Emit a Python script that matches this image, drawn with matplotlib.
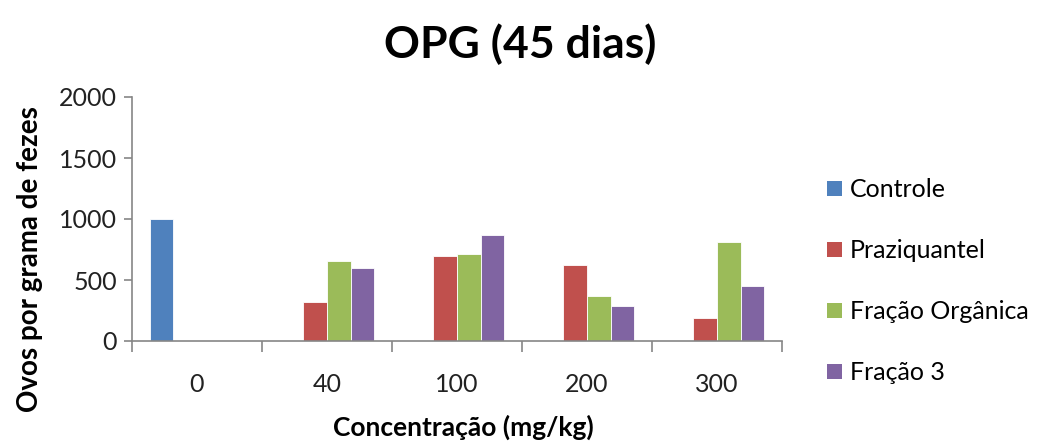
import matplotlib
matplotlib.use("Agg")
import matplotlib.pyplot as plt
import numpy as np
from matplotlib.patches import Patch

categories = ["0", "40", "100", "200", "300"]
series_names = ["Controle", "Praziquantel", "Fração Orgânica", "Fração 3"]
controle = [1000, 0, 0, 0, 0]
praziquantel = [0, 320, 695, 620, 185]
fracao_organica = [0, 655, 715, 365, 810]
fracao_3 = [0, 595, 870, 290, 447]
colors = ["#4F81BD", "#C0504D", "#9BBB59", "#8064A2"]

plt.rcParams['font.family'] = ['Lato', 'DejaVu Sans']

fig = plt.figure(figsize=(10.41, 4.43), dpi=100)
ax = fig.add_axes([132 / 1041, 1 - 341 / 443, 650 / 1041, 244 / 443])

x = np.arange(len(categories))
width = 0.182
values = [controle, praziquantel, fracao_organica, fracao_3]
for i, (vals, col) in enumerate(zip(values, colors)):
    v = np.array(vals, dtype=float)
    mask = v > 0
    ax.bar(x[mask] + (i - 1.5) * width, v[mask], width, color=col,
           edgecolor="white", linewidth=0.6, zorder=2)

ax.set_xlim(-0.5, len(categories) - 0.5)
ax.set_ylim(0, 2000)
ax.set_yticks([0, 500, 1000, 1500, 2000])

# Excel style: tick marks between categories, labels at the centres
ax.set_xticks(np.arange(-0.5, len(categories)), labels=[])
ax.set_xticks(x, labels=categories, minor=True)
ax.tick_params(axis="x", which="major", length=8, width=1.2, color="#868686", direction="out")
ax.tick_params(axis="x", which="minor", length=0, pad=23, labelsize=18, labelcolor="#222222")
ax.tick_params(axis="y", length=6, width=1.2, color="#868686", labelsize=18, pad=5,
               labelcolor="#222222")

for s in ["top", "right"]:
    ax.spines[s].set_visible(False)
for s in ["left", "bottom"]:
    ax.spines[s].set_color("#868686")
    ax.spines[s].set_linewidth(1.2)

fig.text(0.5, 0.9, "OPG (45 dias)", ha="center", va="center",
         fontsize=32, fontweight="bold")
fig.text(0.445, 0.036, "Concentração (mg/kg)", ha="center", va="center",
         fontsize=19, fontweight="bold")
fig.text(0.029, 0.415, "Ovos por grama de fezes", ha="center", va="center",
         rotation=90, fontsize=20, fontweight="bold")

handles = [Patch(facecolor=c, edgecolor="none") for c in colors]
fig.legend(handles, series_names, loc="upper left", bbox_to_anchor=(0.785, 0.62),
           frameon=False, fontsize=18, handlelength=0.6, handleheight=0.6,
           handletextpad=0.3, labelspacing=1.52, borderaxespad=0)

fig.savefig("out.png", dpi=100, facecolor="white")
